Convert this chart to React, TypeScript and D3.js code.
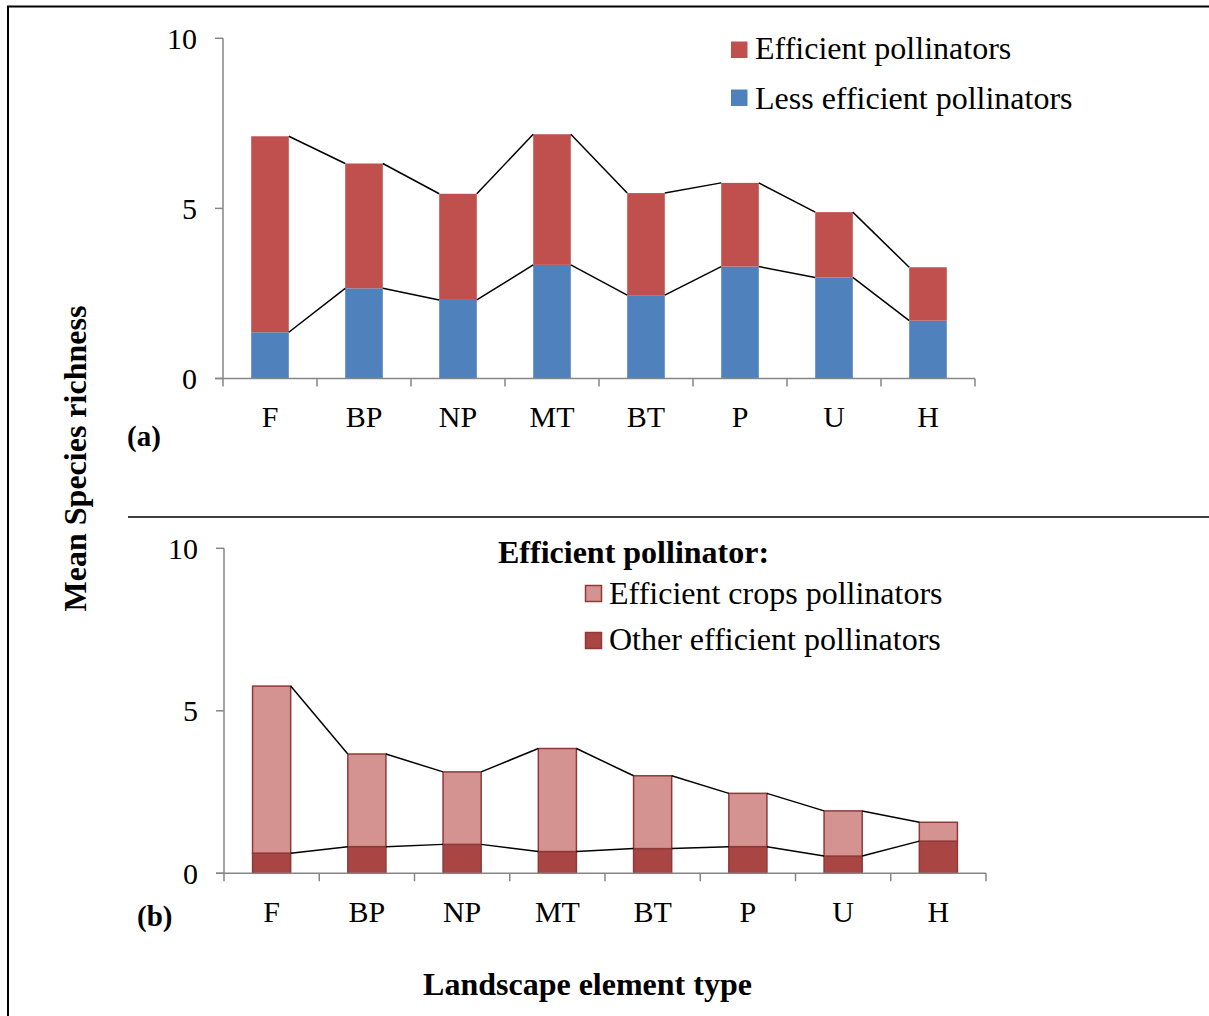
import React from "react";
import * as d3 from "d3";

// landscape element types
const categories = ["F", "BP", "NP", "MT", "BT", "P", "U", "H"];

// panel (a)
const lessEfficient = [1.36, 2.65, 2.31, 3.34, 2.45, 3.29, 2.97, 1.7];
const efficient = [5.76, 3.67, 3.12, 3.84, 3.0, 2.46, 1.92, 1.57];

// panel (b) - split of the efficient pollinators
const otherEfficient = [0.62, 0.82, 0.89, 0.67, 0.76, 0.82, 0.53, 0.99];
const efficientCrops = [5.14, 2.85, 2.23, 3.17, 2.24, 1.64, 1.39, 0.58];

const yTicks = [0, 5, 10];

const FONT = "'Liberation Serif', 'Times New Roman', serif";
const AXIS = "#868686";

type Panel = {
  keys: string[];
  values: number[][];
  fills: string[];
  stroke: string | null;
  xRange: [number, number];
  yRange: [number, number];
  labelY: number;
};

const StackPanel = ({ p }: { p: Panel }) => {
  const x = d3.scaleBand().domain(categories).range(p.xRange).padding(0);
  const y = d3.scaleLinear().domain([0, 10]).range(p.yRange);
  const bw = x.bandwidth() * 0.4;
  const off = (x.bandwidth() - bw) / 2;

  const rows = categories.map((c, i) => {
    const r: any = { cat: c };
    p.keys.forEach((k, j) => (r[k] = p.values[j][i]));
    return r;
  });
  const series = d3.stack().keys(p.keys)(rows);

  // excel style series lines: right top corner -> next left top corner
  const seriesLines: string[] = [];
  series.forEach((s) => {
    for (let i = 0; i < s.length - 1; i++) {
      const x1 = (x(categories[i]) as number) + off + bw;
      const x2 = (x(categories[i + 1]) as number) + off;
      seriesLines.push(`M${x1},${y(s[i][1])}L${x2},${y(s[i + 1][1])}`);
    }
  });

  const [x0, x1] = p.xRange;
  const edges = d3.range(categories.length + 1).map((i) => x0 + i * x.step());

  return (
    <g>
      {series.map((s, si) => (
        <g key={si}>
          {s.map((d, i) => (
            <rect
              key={i}
              x={(x(categories[i]) as number) + off}
              y={y(d[1])}
              width={bw}
              height={y(d[0]) - y(d[1])}
              fill={p.fills[si]}
              stroke={p.stroke || "none"}
              strokeWidth={p.stroke ? 1.5 : 0}
            />
          ))}
        </g>
      ))}
      {seriesLines.map((d, i) => (
        <path key={i} d={d} fill="none" stroke="#000" strokeWidth={1.5} />
      ))}
      {/* y axis */}
      <line x1={x0} x2={x0} y1={y(0)} y2={y(10)} stroke={AXIS} strokeWidth={1.5} />
      {yTicks.map((t) => (
        <g key={t}>
          <line x1={x0 - 8} x2={x0} y1={y(t)} y2={y(t)} stroke={AXIS} strokeWidth={1.5} />
          <text
            x={x0 - 26}
            y={y(t)}
            dy="0.35em"
            textAnchor="end"
            fontFamily={FONT}
            fontSize={30}
          >
            {t}
          </text>
        </g>
      ))}
      {/* x axis */}
      <line x1={x0 - 8} x2={x1} y1={y(0)} y2={y(0)} stroke={AXIS} strokeWidth={1.5} />
      {edges.map((e, i) => (
        <line key={i} x1={e} x2={e} y1={y(0)} y2={y(0) + 8} stroke={AXIS} strokeWidth={1.5} />
      ))}
      {categories.map((c) => (
        <text
          key={c}
          x={(x(c) as number) + x.bandwidth() / 2}
          y={p.labelY}
          textAnchor="middle"
          fontFamily={FONT}
          fontSize={30}
        >
          {c}
        </text>
      ))}
    </g>
  );
};

const App = () => {
  const panelA: Panel = {
    keys: ["less", "eff"],
    values: [lessEfficient, efficient],
    fills: ["#4F81BD", "#C0504D"],
    stroke: null,
    xRange: [223, 975],
    yRange: [378.5, 38.3],
    labelY: 427,
  };
  const panelB: Panel = {
    keys: ["other", "crops"],
    values: [otherEfficient, efficientCrops],
    fills: ["#A94543", "#D49391"],
    stroke: "#8E3A38",
    xRange: [224, 986],
    yRange: [873.3, 548.3],
    labelY: 922,
  };

  return (
    <svg
      width={1209}
      height={1016}
      style={{ position: "absolute", left: 0, top: 0, background: "#fff" }}
    >
      <rect x={0} y={0} width={1209} height={1016} fill="#fff" />
      {/* outer frame */}
      <rect x={8} y={6.5} width={1300} height={1100} fill="none" stroke="#000" strokeWidth={2} />
      {/* divider */}
      <line x1={128} x2={1209} y1={517} y2={517} stroke="#000" strokeWidth={1.5} />

      <StackPanel p={panelA} />
      <StackPanel p={panelB} />

      {/* legend (a) */}
      <rect x={731} y={41.5} width={16.5} height={16.5} fill="#C0504D" />
      <text x={755} y={58.5} fontFamily={FONT} fontSize={32}>
        Efficient pollinators
      </text>
      <rect x={731} y={89.5} width={16.5} height={16.5} fill="#4F81BD" />
      <text x={755} y={108.5} fontFamily={FONT} fontSize={32}>
        Less efficient pollinators
      </text>

      {/* legend (b) */}
      <text x={498} y={563} fontFamily={FONT} fontSize={32} fontWeight="bold">
        Efficient pollinator:
      </text>
      <rect x={585.5} y={585.5} width={16} height={16} fill="#D49391" stroke="#8E3A38" strokeWidth={1.5} />
      <text x={609} y={603.5} fontFamily={FONT} fontSize={32}>
        Efficient crops pollinators
      </text>
      <rect x={585.5} y={632.5} width={16} height={16} fill="#A94543" stroke="#8E3A38" strokeWidth={1.5} />
      <text x={609} y={649.5} fontFamily={FONT} fontSize={32}>
        Other efficient pollinators
      </text>

      {/* panel labels */}
      <text x={127} y={446} fontFamily={FONT} fontSize={29} fontWeight="bold">
        (a)
      </text>
      <text x={137} y={926} fontFamily={FONT} fontSize={29} fontWeight="bold">
        (b)
      </text>

      {/* axis titles */}
      <text
        transform="translate(86,458.5) rotate(-90)"
        textAnchor="middle"
        fontFamily={FONT}
        fontSize={32}
        fontWeight="bold"
      >
        Mean Species richness
      </text>
      <text x={587.5} y={995} textAnchor="middle" fontFamily={FONT} fontSize={32} fontWeight="bold">
        Landscape element type
      </text>
    </svg>
  );
};

export default App;
